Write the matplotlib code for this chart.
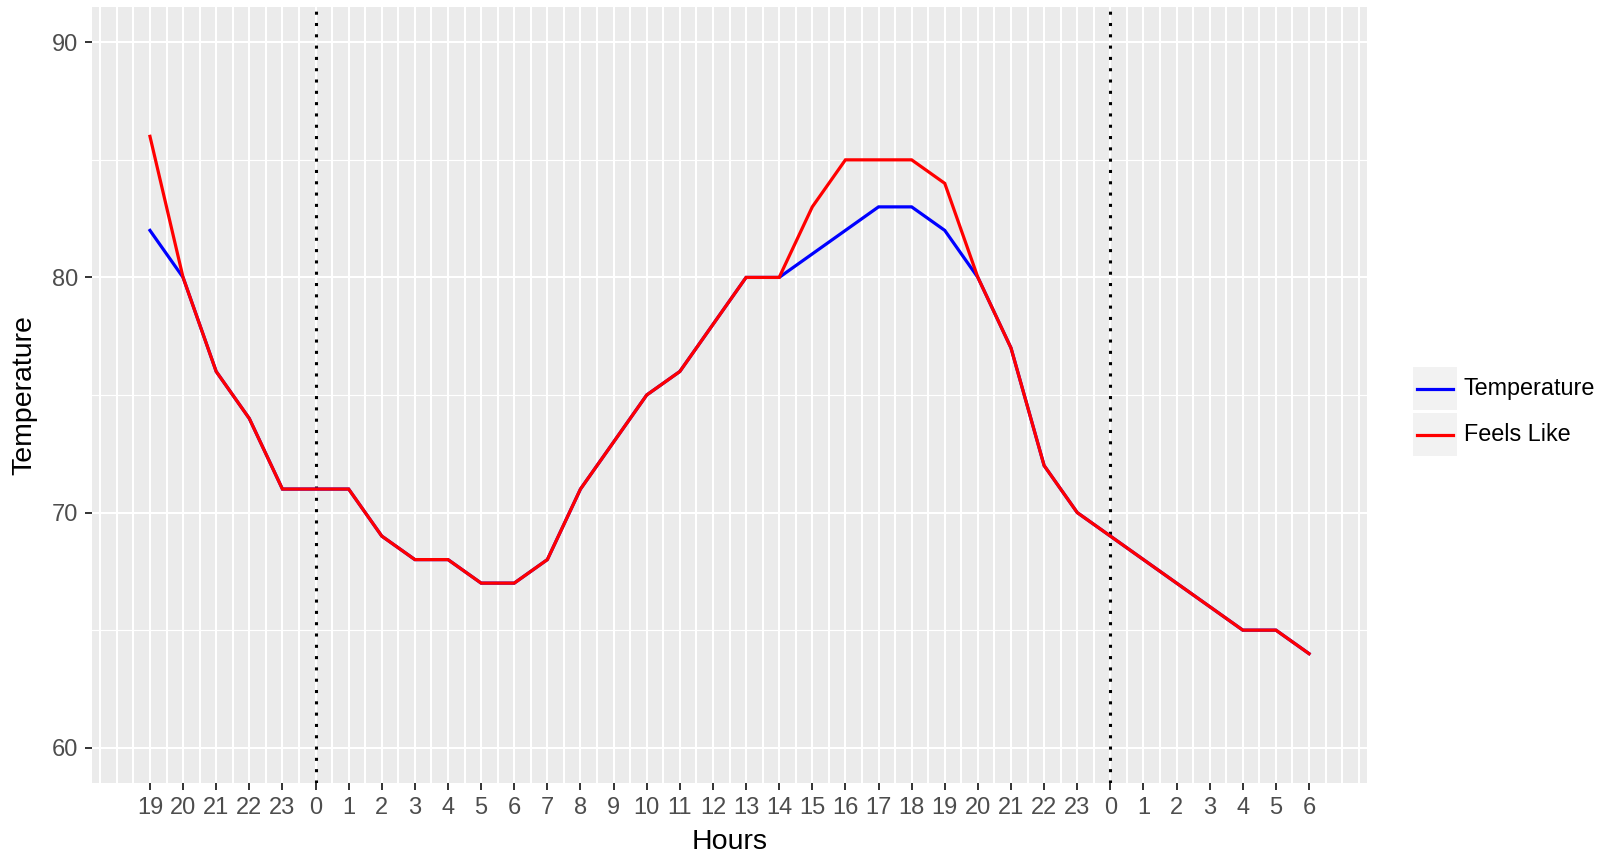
"""
Hourly temperature vs. feels-like, ggplot-style line chart.
Saves out.png
"""
import numpy as np
import matplotlib
matplotlib.use("Agg")
import matplotlib.pyplot as plt
from matplotlib.patches import Rectangle
from matplotlib.lines import Line2D

plt.rcParams["font.family"] = ["Liberation Sans", "DejaVu Sans"]

# ── Data ──────────────────────────────────────────────────────────────────────
hours = [19, 20, 21, 22, 23,
         0, 1, 2, 3, 4, 5, 6, 7, 8, 9, 10, 11, 12,
         13, 14, 15, 16, 17, 18, 19, 20, 21, 22, 23,
         0, 1, 2, 3, 4, 5, 6]
temperature = [82, 80, 76, 74, 71,
               71, 71, 69, 68, 68, 67, 67, 68, 71, 73, 75, 76, 78,
               80, 80, 81, 82, 83, 83, 82, 80, 77, 72, 70,
               69, 68, 67, 66, 65, 65, 64]
feels_like = [86, 80, 76, 74, 71,
              71, 71, 69, 68, 68, 67, 67, 68, 71, 73, 75, 76, 78,
              80, 80, 83, 85, 85, 85, 84, 80, 77, 72, 70,
              69, 68, 67, 66, 65, 65, 64]
series_names = ["Temperature", "Feels Like"]
series_colors = ["#0000FF", "#FF0000"]

x = np.arange(len(hours))
midnights = [i for i, h in enumerate(hours) if h == 0]

# ── Figure / panel ────────────────────────────────────────────────────────────
W, H = 1606, 860
fig = plt.figure(figsize=(W / 100, H / 100), dpi=100)
fig.patch.set_facecolor("white")

px_l, px_r, px_t, px_b = 92, 1367, 7, 783
ax = fig.add_axes([px_l / W, 1 - px_b / H, (px_r - px_l) / W, (px_b - px_t) / H])
ax.set_facecolor("#EBEBEB")
for s in ax.spines.values():
    s.set_visible(False)

n = len(hours)
pad_x = 0.05 * (n - 1)
ax.set_xlim(-pad_x, n - 1 + pad_x)
ax.set_ylim(60 - 1.5, 90 + 1.5)

# grid: every hour labelled, half-hours (and off-data hours) as extra lines
ax.set_xticks(x)
ax.set_xticklabels([str(h) for h in hours])
extra = [v for v in np.arange(-1.5, n + 1.0, 0.5) if not (0 <= v <= n - 1 and v == int(v))]
ax.set_xticks(extra, minor=True)
ax.set_yticks([60, 70, 80, 90])
ax.set_yticks([65, 75, 85], minor=True)

ax.grid(True, which="major", axis="both", color="white", linewidth=1.5)
ax.grid(True, which="minor", axis="x", color="white", linewidth=1.5)
ax.grid(True, which="minor", axis="y", color="white", linewidth=0.8)
ax.set_axisbelow(True)

ax.tick_params(which="major", length=5, width=1.4, color="#333333",
               labelsize=17, labelcolor="#4D4D4D", pad=5)
ax.tick_params(which="minor", length=0)

# midnight markers
for m in midnights:
    ax.axvline(m, color="black", linewidth=2.2, linestyle=(0, (1, 2.7)), zorder=2)

# lines
for vals, name, col in zip([temperature, feels_like], series_names, series_colors):
    ax.plot(x, vals, color=col, linewidth=2.3, label=name, zorder=3,
            solid_joinstyle="miter")

ax.set_xlabel("Hours", fontsize=20.5, color="black", labelpad=7)
ax.set_ylabel("Temperature", fontsize=20.5, color="black", labelpad=10)

# ── Legend (ggplot-like keys) ────────────────────────────────────────────────
key_x0, key_x1 = 1413, 1457
key_rows = [(367, 410), (413, 456)]
for (y0, y1), name, col in zip(key_rows, series_names, series_colors):
    fig.patches.append(Rectangle((key_x0 / W, 1 - y1 / H),
                                 (key_x1 - key_x0) / W, (y1 - y0) / H,
                                 transform=fig.transFigure,
                                 facecolor="#F2F2F2", edgecolor="none"))
    yc = 1 - (y0 + y1) / 2 / H
    fig.lines.append(Line2D([1417 / W, 1453 / W], [yc, yc],
                            transform=fig.transFigure, color=col, linewidth=2.3))
    fig.text(1464 / W, yc, name, fontsize=16.8, color="black",
             ha="left", va="center")

fig.savefig("out.png", dpi=100, facecolor=fig.get_facecolor())
